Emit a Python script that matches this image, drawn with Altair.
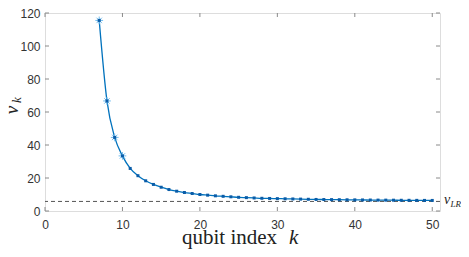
import altair as alt
import pandas as pd

# ---- data ----
k_values = list(range(7, 51))
v_values = [115.5, 66.7, 44.6, 33.4, 25.8, 21.4, 18.3, 16.1, 14.4, 13.0,
            12.0, 11.2, 10.6, 10.0, 9.6, 9.2, 8.9, 8.6, 8.3, 8.1,
            7.9, 7.7, 7.6, 7.5, 7.4, 7.3, 7.2, 7.1, 7.0, 6.95,
            6.9, 6.85, 6.8, 6.75, 6.7, 6.65, 6.6, 6.58, 6.55, 6.5,
            6.48, 6.45, 6.42, 6.4]
star_k = [7, 8, 9, 10]
v_LR = 5.8
x_ticks = [0, 10, 20, 30, 40, 50]
y_ticks = [0, 20, 40, 60, 80, 100, 120]

W, H = 395, 198
LINE = "#0072BD"
STAR = "#72BDEE"
DOT = "#0A5CA8"
AX = "#8a8a8a"
LAB = "#333333"

df = pd.DataFrame({"k": k_values, "v": v_values})
df_star = df[df["k"].isin(star_k)]

xs = alt.Scale(domain=[0, 51], nice=False, zero=False)
ys = alt.Scale(domain=[0, 120], nice=False, zero=False)

x_axis = alt.Axis(values=x_ticks, title=None, ticks=False, domain=False, grid=False,
                  labelFont="Liberation Sans", labelFontSize=12, labelColor=LAB,
                  labelPadding=8, labelFlush=False)
y_axis = alt.Axis(values=y_ticks, title=None, ticks=False, domain=False, grid=False,
                  labelFont="Liberation Sans", labelFontSize=12, labelColor=LAB,
                  labelPadding=5)


def X(field):
    return alt.X(field, type="quantitative", scale=xs, axis=x_axis)


def Y(field):
    return alt.Y(field, type="quantitative", scale=ys, axis=y_axis)


line = alt.Chart(df).mark_line(color=LINE, strokeWidth=1.3, interpolate="monotone").encode(
    x=X("k"), y=Y("v"),
)

dots = alt.Chart(df).mark_square(size=9, color=DOT, opacity=1).encode(
    x=X("k"), y=Y("v"),
)

asterisk = "M-1,0H1M0,-1V1M-0.7,-0.7L0.7,0.7M-0.7,0.7L0.7,-0.7"
stars = alt.Chart(df_star).mark_point(shape=asterisk, size=60, filled=False,
                                      stroke=STAR, strokeWidth=1, opacity=1).encode(
    x=X("k"), y=Y("v"),
)

dash = alt.Chart(pd.DataFrame({"v": [v_LR]})).mark_rule(
    color="#555555", strokeWidth=1, strokeDash=[4, 3]).encode(
    y=Y("v"),
)

xt = pd.DataFrame({"k": x_ticks})
yt = pd.DataFrame({"v": y_ticks})
tick_b = alt.Chart(xt).mark_rule(color=AX, strokeWidth=1).encode(
    x=X("k"), y=alt.value(H), y2=alt.value(H - 4))
tick_t = alt.Chart(xt).mark_rule(color=AX, strokeWidth=1).encode(
    x=X("k"), y=alt.value(0), y2=alt.value(4))
tick_l = alt.Chart(yt).mark_rule(color=AX, strokeWidth=1).encode(
    y=Y("v"), x=alt.value(0), x2=alt.value(4))
tick_r = alt.Chart(yt).mark_rule(color=AX, strokeWidth=1).encode(
    y=Y("v"), x=alt.value(W), x2=alt.value(W - 4))

one = pd.DataFrame({"a": [0]})
serif = "Liberation Serif"
TXT = "#222222"
ytitle_v = alt.Chart(one).mark_text(text="v", font=serif, fontStyle="italic", fontSize=19,
                                    angle=270, align="center", baseline="alphabetic",
                                    color=TXT).encode(x=alt.value(-27), y=alt.value(97))
ytitle_k = alt.Chart(one).mark_text(text="k", font=serif, fontStyle="italic", fontSize=13,
                                    angle=270, align="center", baseline="alphabetic",
                                    color=TXT).encode(x=alt.value(-24), y=alt.value(87))
xtitle_a = alt.Chart(one).mark_text(text="qubit index", font=serif, fontSize=21,
                                    align="left", baseline="alphabetic",
                                    color=TXT).encode(x=alt.value(137), y=alt.value(H + 33))
xtitle_k = alt.Chart(one).mark_text(text="k", font=serif, fontStyle="italic", fontSize=21,
                                    align="left", baseline="alphabetic",
                                    color=TXT).encode(x=alt.value(244), y=alt.value(H + 33))
lr_v = alt.Chart(pd.DataFrame({"v": [v_LR]})).mark_text(
    text="v", font=serif, fontStyle="italic", fontSize=14, align="left",
    baseline="alphabetic", dy=3, color=TXT).encode(
    x=alt.value(399), y=Y("v"))
lr_s = alt.Chart(pd.DataFrame({"v": [v_LR]})).mark_text(
    text="LR", font=serif, fontStyle="italic", fontSize=9, align="left",
    baseline="alphabetic", dy=6, color=TXT).encode(
    x=alt.value(405.5), y=Y("v"))

chart = alt.layer(
    line, dash, stars, dots, tick_b, tick_t, tick_l, tick_r,
    ytitle_v, ytitle_k, xtitle_a, xtitle_k, lr_v, lr_s,
).properties(
    width=W, height=H,
    padding={"left": 37, "top": 5, "right": 21, "bottom": 38},
    autosize=alt.AutoSizeParams(type="none"),
).configure_view(
    stroke=AX, strokeWidth=1,
).configure(background="white")

chart.save("out.html", embed_options={"renderer": "svg", "actions": False})
